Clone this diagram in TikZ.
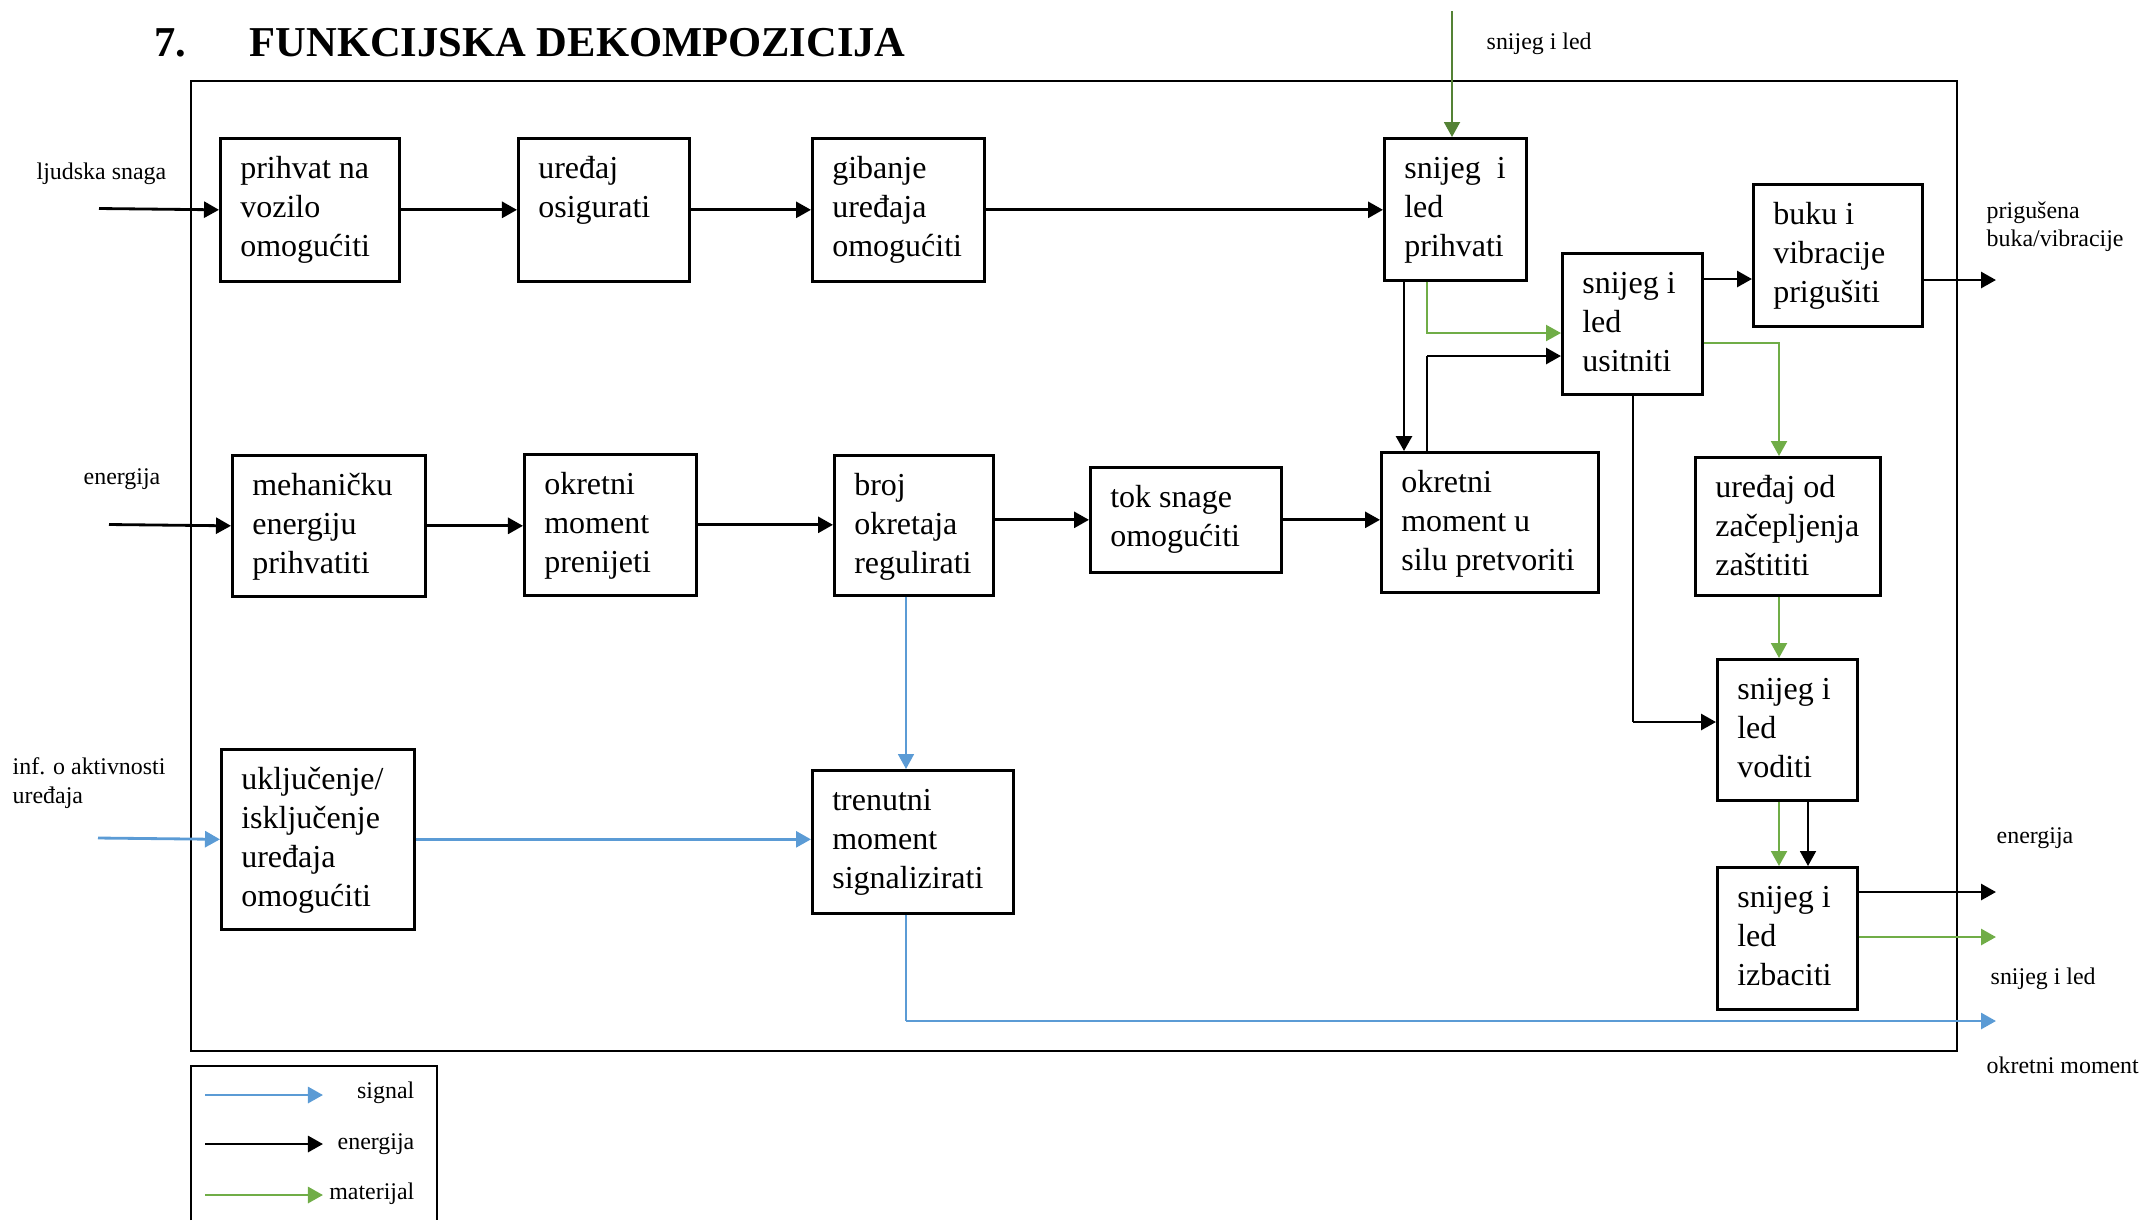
\documentclass[tikz,border=0pt]{standalone}
\usepackage{fontspec}
\setmainfont{Liberation Serif}
\usetikzlibrary{arrows.meta}
\definecolor{sigblue}{HTML}{5B9BD5}
\definecolor{matgreen}{HTML}{70AD47}
\definecolor{darkgreen}{HTML}{548235}
\newlength\pxu
\setlength\pxu{0.01cm}
\newcommand{\fbt}[3]{\parbox[t][#2\pxu][t]{#1\pxu}{\fontsize{9.1pt}{0.39cm}\selectfont\raggedright\leftskip=20\pxu\rule{0pt}{40.5\pxu}#3}}
\tikzset{
  fbox/.style={draw, line width=0.75pt, inner sep=0pt, anchor=north west},
  tip/.style={-{Triangle[length=0.15cm,width=0.16cm]}},
  en/.style={draw=black, line width=0.8pt, tip},
  ent/.style={draw=black, line width=0.5pt, tip},
  thinline/.style={draw=black, line width=0.5pt},
  sg/.style={draw=sigblue, line width=0.8pt, tip},
  sgt/.style={draw=sigblue, line width=0.5pt, tip},
  sgline/.style={draw=sigblue, line width=0.5pt},
  mt/.style={draw=matgreen, line width=0.6pt, tip},
  mtl/.style={draw=matgreen, line width=0.8pt, tip},
  mtd/.style={draw=darkgreen, line width=0.55pt, tip},
  lbl/.style={font=\fontsize{6.8pt}{8pt}\selectfont, inner sep=0pt, anchor=base west},
  frame/.style={draw=black, line width=0.8pt},
}
\begin{document}
\begin{tikzpicture}[x=0.01cm, y=-0.01cm]
\useasboundingbox (0,0) rectangle (2142,1220);

% title
\node[anchor=base west, inner sep=0pt, font=\fontsize{12.1pt}{14pt}\selectfont\bfseries] (t7) at (154,56) {7.};
\node[anchor=base west, inner sep=0pt, font=\fontsize{12.1pt}{14pt}\selectfont\bfseries] (title) at (249,56) {FUNKCIJSKA DEKOMPOZICIJA};

% frame
\draw[frame] (191,81) rectangle (1957,1051);

% boxes row 1
\node[fbox] (b1) at (219,137) {\fbt{179}{143}{prihvat na\\vozilo\\omogućiti}};
\node[fbox] (b2) at (517,137) {\fbt{171}{143}{uređaj\\osigurati}};
\node[fbox] (b3) at (811,137) {\fbt{172}{143}{gibanje\\uređaja\\omogućiti}};
\node[fbox] (b4) at (1383,137) {\fbt{142}{142}{snijeg\ \ i\\led\\prihvati}};
\node[fbox] (b5) at (1561,252) {\fbt{140}{141}{snijeg i\\led\\usitniti}};
\node[fbox] (b6) at (1752,183) {\fbt{169}{142}{buku i\\vibracije\\prigušiti}};
% row 2
\node[fbox] (b11) at (231,454) {\fbt{193}{141}{mehaničku\\energiju\\prihvatiti}};
\node[fbox] (b12) at (523,453) {\fbt{172}{141}{okretni\\moment\\prenijeti}};
\node[fbox] (b13) at (833,454) {\fbt{159}{140}{broj\\okretaja\\regulirati}};
\node[fbox] (b14) at (1089,466) {\fbt{191}{105}{tok snage\\omogućiti}};
\node[fbox] (b9) at (1380,451) {\fbt{217}{140}{okretni\\moment u\\silu pretvoriti}};
\node[fbox] (b7) at (1694,456) {\fbt{185}{138}{uređaj od\\začepljenja\\zaštititi}};
% lower right
\node[fbox] (b8) at (1716,658) {\fbt{140}{141}{snijeg i\\led\\voditi}};
\node[fbox] (b10) at (1716,866) {\fbt{140}{142}{snijeg i\\led\\izbaciti}};
% row 3
\node[fbox] (b16) at (220,748) {\fbt{193}{180}{uključenje/\\isključenje\\uređaja\\omogućiti}};
\node[fbox] (b15) at (811,769) {\fbt{201}{143}{trenutni\\moment\\signalizirati}};

% labels
\node[lbl] (l1) at (36,179) {ljudska snaga};
\node[lbl] (l2) at (83,484) {energija};
\node[lbl] (l3) at (12,774) {inf. o aktivnosti};
\node[lbl] (l3b) at (12,803) {uređaja};
\node[lbl] (l4) at (1486,49) {snijeg i led};
\node[lbl] (l5) at (1986,218) {prigušena};
\node[lbl] (l5b) at (1986,246) {buka/vibracije};
\node[lbl] (l6) at (1996,843) {energija};
\node[lbl] (l7) at (1990,984) {snijeg i led};
\node[lbl] (l8) at (1986,1073) {okretni moment};

% row 1 connectors
\coordinate (in1) at (99,208.5);
\draw[en] (in1) -- (b1.west);
\draw[en] (b1.east) -- (b2.west);
\draw[en] (b2.east) -- (b3.west);
\draw[en] (b3.east) -- (b3.east -| b4.west);
\coordinate (sin) at (1452,11);
\draw[mtd] (sin) -- (sin |- b4.north);
\coordinate (g1) at (1427,333);
\draw[mt] (b4.south -| g1) -- (g1) -- (g1 -| b5.west);
\coordinate (k1) at (1404,0);
\draw[en] (b4.south -| k1) -- (b9.north -| k1);
\coordinate (k2) at (1427,356);
\draw[thinline] (b9.north -| k2) -- (k2);
\draw[en] (k2) -- (k2 -| b5.west);
\coordinate (k3) at (0,279);
\draw[en] (b5.east |- k3) -- (b6.west |- k3);
\coordinate (out1) at (1996,280);
\draw[en] (b6.east |- out1) -- (out1);
\coordinate (g2) at (1779,343);
\draw[mt] (b5.east |- g2) -- (g2) -- (g2 |- b7.north);
\coordinate (k4) at (1633,722);
\draw[thinline] (b5.south -| k4) -- (k4);
\draw[en] (k4) -- (k4 -| b8.west);
\draw[mt] (b7.south -| g2) -- (b8.north -| g2);
\draw[mt] (b8.south -| g2) -- (b10.north -| g2);
\coordinate (k5) at (1808,0);
\draw[ent] (b8.south -| k5) -- (b10.north -| k5);
\coordinate (out2) at (1996,892);
\draw[en] (b10.east |- out2) -- (out2);
\coordinate (out3) at (1996,937);
\draw[mtl] (b10.east |- out3) -- (out3);

% row 2 connectors
\coordinate (in2) at (109,524.5);
\draw[en] (in2) -- (b11.west);
\draw[en] (b11.east) -- (b11.east -| b12.west);
\draw[en] (b12.east) -- (b12.east -| b13.west);
\draw[en] (b13.east |- b14.west) -- (b14.west);
\draw[en] (b14.east) -- (b14.east -| b9.west);
\coordinate (s1) at (906,0);
\draw[sgt] (b13.south -| s1) -- (b15.north -| s1);

% row 3 connectors
\coordinate (in3) at (98,838);
\draw[sg] (in3) -- (b16.west);
\draw[sg] (b16.east) -- (b16.east -| b15.west);
\coordinate (s2) at (906,1021);
\coordinate (out4) at (1996,1021);
\draw[sgline] (b15.south -| s2) -- (s2);
\draw[sg] (s2) -- (out4);

% legend
\draw[frame] (191,1220) -- (191,1066) -- (437,1066) -- (437,1220);
\coordinate (lg1a) at (205,1095);
\coordinate (lg1b) at (323,1095);
\coordinate (lg2a) at (205,1144);
\coordinate (lg2b) at (323,1144);
\coordinate (lg3a) at (205,1195);
\coordinate (lg3b) at (323,1195);
\draw[sg] (lg1a) -- (lg1b);
\draw[en] (lg2a) -- (lg2b);
\draw[mtl] (lg3a) -- (lg3b);
\node[lbl, anchor=base east] (lgt1) at (415,1098) {signal};
\node[lbl, anchor=base east] (lgt2) at (415,1149) {energija};
\node[lbl, anchor=base east] (lgt3) at (415,1199) {materijal};
\end{tikzpicture}
\end{document}
